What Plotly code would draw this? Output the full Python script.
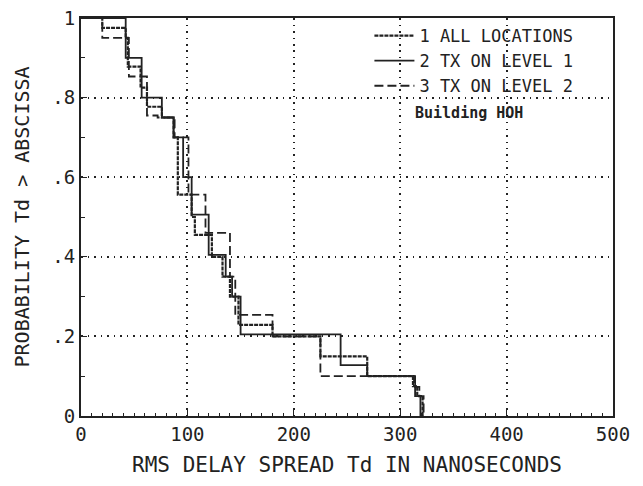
import plotly.graph_objects as go

# Step curves: x where each step begins, y value from that x onward
all_x = [0, 20, 42, 44, 56, 62, 76, 87, 91, 104, 107, 123, 133, 140, 148, 180, 225, 269, 312, 316, 321]
all_y = [1, .975, .95, .878, .825, .777, .75, .70, .556, .50, .455, .40, .35, .30, .229, .20, .15, .10, .075, .05, 0]

lv1_x = [0, 42, 57, 76, 87, 96, 104, 120, 136, 142, 150, 244, 269, 314, 319, 322]
lv1_y = [1, .90, .80, .75, .70, .60, .506, .405, .35, .30, .205, .128, .10, .05, 0, 0]

lv2_x = [0, 20, 45, 62, 72, 88, 101, 117, 140, 145, 180, 225, 313, 318, 322]
lv2_y = [1, .95, .853, .755, .75, .70, .556, .46, .35, .254, .20, .10, .073, .05, 0]

names = ["1 ALL LOCATIONS", "2 TX ON LEVEL 1", "3 TX ON LEVEL 2"]
x_ticks = [0, 100, 200, 300, 400, 500]
x_tick_text = ["0", "100", "200", "300", "400", "500"]
y_ticks = [0, .2, .4, .6, .8, 1]
y_tick_text = ["0", ".2", ".4", ".6", ".8", "1"]

FONT = "DejaVu Sans Mono"
INK = "#222222"

fig = go.Figure()
fig.add_trace(go.Scatter(x=all_x, y=all_y, mode="lines", name=names[0],
                         line=dict(shape="hv", color=INK, width=2.2, dash="4px,1px")))
fig.add_trace(go.Scatter(x=lv1_x, y=lv1_y, mode="lines", name=names[1],
                         line=dict(shape="hv", color=INK, width=1.8)))
fig.add_trace(go.Scatter(x=lv2_x, y=lv2_y, mode="lines", name=names[2],
                         line=dict(shape="hv", color=INK, width=1.8, dash="9px,4px")))

fig.add_annotation(x=365, y=0.762, text="<b>Building HOH</b>", showarrow=False,
                   font=dict(family=FONT, size=15, color=INK))
fig.add_annotation(xref="paper", yref="paper", x=-0.11, y=0.5, textangle=-90,
                   xanchor="center", yanchor="middle",
                   text="PROBABILITY Td > ABSCISSA", showarrow=False,
                   font=dict(family=FONT, size=20, color=INK))

grid = dict(showgrid=True, gridcolor=INK, griddash="1.5px,5px", gridwidth=1.6)

fig.update_layout(
    width=643, height=486,
    margin=dict(l=81, r=30, t=18, b=70),
    paper_bgcolor="white", plot_bgcolor="white",
    font=dict(family=FONT, color=INK),
    legend=dict(x=0.935, y=1.0, xanchor="right", yanchor="top",
                bgcolor="rgba(0,0,0,0)", font=dict(family=FONT, size=17, color=INK),
                tracegroupgap=0, itemwidth=40),
    xaxis=dict(range=[0, 500], tickvals=x_ticks, ticktext=x_tick_text, automargin=False,
               showline=True, mirror=True, linecolor=INK, linewidth=2,
               ticks="inside", ticklen=6, tickcolor=INK,
               minor=dict(dtick=10, ticks="inside", ticklen=3, tickcolor=INK, showgrid=False),
               zeroline=False, tickfont=dict(family=FONT, size=19, color=INK),
               title=dict(text="RMS DELAY SPREAD Td IN NANOSECONDS",
                          font=dict(family=FONT, size=21, color=INK), standoff=14),
               **grid),
    yaxis=dict(range=[0, 1], tickvals=y_ticks, ticktext=y_tick_text, automargin=False,
               showline=True, mirror=True, linecolor=INK, linewidth=2,
               ticks="inside", ticklen=6, tickcolor=INK,
               minor=dict(dtick=0.1, ticks="inside", ticklen=4, tickcolor=INK, showgrid=False),
               zeroline=False, tickfont=dict(family=FONT, size=19, color=INK),
               **grid),
)

fig.write_html("out.html")
